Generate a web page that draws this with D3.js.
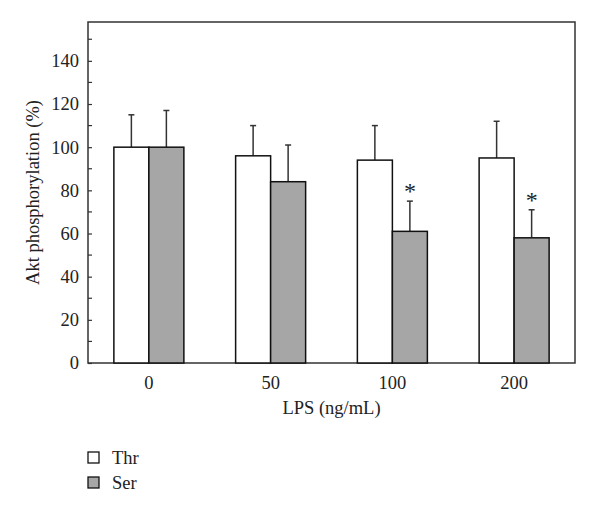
<!DOCTYPE html>
<html>
<head>
<meta charset="utf-8">
<script src="https://cdn.jsdelivr.net/npm/d3@7"></script>
<style>
  body { margin: 0; background: #fff; }
  svg text { font-family: "Liberation Serif", "DejaVu Serif", serif; fill: #222; }
</style>
</head>
<body>
<svg id="chart" width="600" height="512"></svg>
<script>
const doses = ["0", "50", "100", "200"];
const series = ["Thr", "Ser"];
const thrValues = [100, 96, 94, 95];
const thrErrors = [15, 14, 16, 17];
const serValues = [100, 84, 61, 58];
const serErrors = [17, 17, 14, 13];
const serSignificant = [false, false, true, true];
const yTicks = [0, 20, 40, 60, 80, 100, 120, 140];

const svg = d3.select("#chart");
const plotLeft = 88, plotRight = 575, plotTop = 22, plotBottom = 363;
const fontSize = 18.5;

const x = d3.scaleBand().domain(doses).range([plotLeft, plotRight]).paddingInner(0.425).paddingOuter(0.2125);
const xSub = d3.scaleBand().domain(series).range([0, x.bandwidth()]);
const y = d3.scaleLinear().domain([0, 158]).range([plotBottom, plotTop]);

const fills = { Thr: "#ffffff", Ser: "#a6a6a6" };

// frame
svg.append("rect")
    .attr("x", plotLeft).attr("y", plotTop)
    .attr("width", plotRight - plotLeft).attr("height", plotBottom - plotTop)
    .attr("fill", "none").attr("stroke", "#333").attr("stroke-width", 1.5);

// y axis, ticks point inside
const yAxis = d3.axisLeft(y).tickValues(yTicks).tickSize(-4).tickPadding(9);
const gy = svg.append("g").attr("transform", `translate(${plotLeft},0)`).call(yAxis);
gy.select(".domain").remove();
gy.selectAll("line").attr("stroke", "#333").attr("stroke-width", 1.2);
gy.selectAll("text").attr("font-size", fontSize).attr("font-family", "Liberation Serif").attr("fill", "#222");

// minor ticks
const minor = d3.range(10, 160, 20);
svg.append("g").selectAll("line").data(minor).join("line")
    .attr("x1", plotLeft).attr("x2", plotLeft + 4)
    .attr("y1", d => y(d)).attr("y2", d => y(d))
    .attr("stroke", "#333").attr("stroke-width", 1.2);

// x labels
const xAxis = d3.axisBottom(x).tickSize(0).tickPadding(13);
const gx = svg.append("g").attr("transform", `translate(0,${plotBottom})`).call(xAxis);
gx.select(".domain").remove();
gx.selectAll("text").attr("font-size", fontSize).attr("font-family", "Liberation Serif").attr("fill", "#222");

const rows = doses.map((d, i) => [
    { dose: d, key: "Thr", value: thrValues[i], err: thrErrors[i], sig: false },
    { dose: d, key: "Ser", value: serValues[i], err: serErrors[i], sig: serSignificant[i] }
]).flat();

// error bars (drawn first so the bar outline covers the base)
const eb = svg.append("g").selectAll("g").data(rows).join("g")
    .attr("transform", d => `translate(${x(d.dose) + xSub(d.key) + xSub.bandwidth() / 2},0)`);
eb.append("line")
    .attr("y1", d => y(d.value)).attr("y2", d => y(d.value + d.err))
    .attr("stroke", "#333").attr("stroke-width", 1.5);
eb.append("line")
    .attr("x1", -3).attr("x2", 3)
    .attr("y1", d => y(d.value + d.err)).attr("y2", d => y(d.value + d.err))
    .attr("stroke", "#333").attr("stroke-width", 1.5);

// bars
svg.append("g").selectAll("rect").data(rows).join("rect")
    .attr("x", d => x(d.dose) + xSub(d.key))
    .attr("y", d => y(d.value))
    .attr("width", xSub.bandwidth())
    .attr("height", d => y(0) - y(d.value))
    .attr("fill", d => fills[d.key])
    .attr("stroke", "#111").attr("stroke-width", 1.5);

// significance marks
svg.append("g").selectAll("text").data(rows.filter(d => d.sig)).join("text")
    .attr("x", d => x(d.dose) + xSub(d.key) + xSub.bandwidth() / 2)
    .attr("y", d => y(d.value + d.err) - 2)
    .attr("text-anchor", "middle")
    .attr("font-size", 24)
    .text("*");

// axis titles
svg.append("text")
    .attr("transform", `translate(39,${(plotTop + plotBottom) / 2}) rotate(-90)`)
    .attr("text-anchor", "middle")
    .attr("font-size", fontSize)
    .text("Akt phosphorylation (%)");
svg.append("text")
    .attr("x", (plotLeft + plotRight) / 2).attr("y", 414)
    .attr("text-anchor", "middle")
    .attr("font-size", fontSize)
    .text("LPS (ng/mL)");

// legend
const legend = svg.append("g").selectAll("g").data(series).join("g")
    .attr("transform", (d, i) => `translate(88,${452 + i * 25})`);
legend.append("rect")
    .attr("width", 11).attr("height", 11)
    .attr("fill", d => fills[d]).attr("stroke", "#111").attr("stroke-width", 1.3);
legend.append("text")
    .attr("x", 24).attr("y", 11.5)
    .attr("font-size", fontSize)
    .text(d => d);
</script>
</body>
</html>
